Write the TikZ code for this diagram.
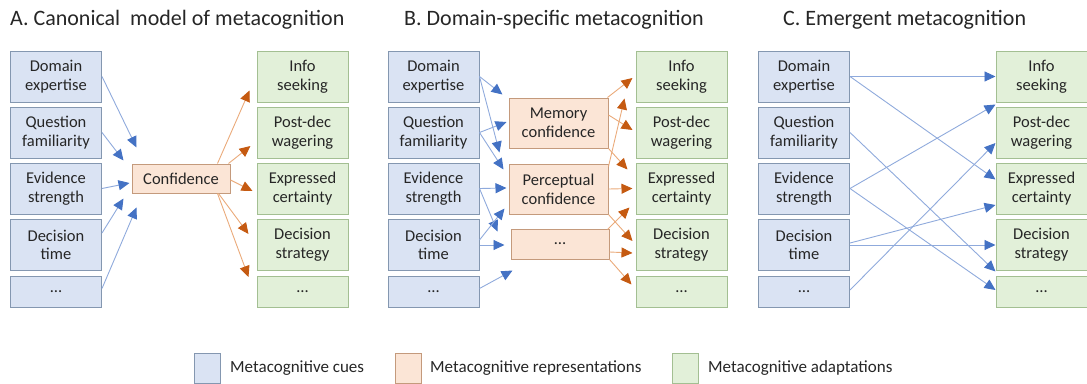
\documentclass[tikz,border=0pt]{standalone}
\usepackage{fontspec}
\setmainfont{Carlito}
\usetikzlibrary{arrows.meta}

\definecolor{cuefill}{HTML}{DAE3F3}
\definecolor{cueedge}{HTML}{8497B0}
\definecolor{repfill}{HTML}{FBE5D6}
\definecolor{repedge}{HTML}{C49A7C}
\definecolor{adfill}{HTML}{E2F0D9}
\definecolor{adedge}{HTML}{A3BF92}
\definecolor{cueline}{HTML}{8FAADC}
\definecolor{cuetip}{HTML}{4472C4}
\definecolor{repline}{HTML}{EAAA7A}
\definecolor{reptip}{HTML}{C55A11}
\definecolor{ink}{HTML}{262626}

% column of five cue boxes: #1 = name prefix, #2 = centre x
\newcommand\cuecolumn[2]{%
  \node[cue] (#11) at (#2,76.5)  {Domain\\expertise};
  \node[cue] (#12) at (#2,132.5) {Question\\familiarity};
  \node[cue] (#13) at (#2,188.5) {Evidence\\strength};
  \node[cue] (#14) at (#2,245)   {Decision\\time};
  \node[cue, minimum height=31] (#15) at (#2,291.5) {…};
}
% column of five adaptation boxes
\newcommand\adaptcolumn[2]{%
  \node[adapt] (#11) at (#2,76.5)  {Info\\seeking};
  \node[adapt] (#12) at (#2,132.5) {Post-dec\\wagering};
  \node[adapt] (#13) at (#2,188.5) {Expressed\\certainty};
  \node[adapt] (#14) at (#2,245)   {Decision\\strategy};
  \node[adapt, minimum height=31] (#15) at (#2,291.5) {…};
}

\begin{document}
\begin{tikzpicture}[x=1pt, y=-1pt,
  box/.style={line width=1pt, inner sep=0pt, align=center, text=ink,
    font=\fontsize{16.5}{18.7}\selectfont, minimum width=91, minimum height=51},
  cue/.style={box, draw=cueedge, fill=cuefill},
  adapt/.style={box, draw=adedge, fill=adfill},
  rep/.style={box, draw=repedge, fill=repfill, minimum width=99},
  cuearr/.style={draw=cueline, line width=0.9pt,
    -{Triangle[length=11pt, width=10pt, color=cuetip]}},
  reparr/.style={draw=repline, line width=0.9pt,
    -{Triangle[length=11pt, width=10pt, color=reptip]}},
  title/.style={anchor=base west, inner sep=0pt, text=ink,
    font=\fontsize{22}{26}\selectfont},
  legsq/.style={line width=1pt, minimum width=26, minimum height=30, inner sep=0pt},
  legtxt/.style={anchor=west, inner sep=0pt, text=ink,
    font=\fontsize{17}{20}\selectfont}
]
\useasboundingbox (0,0) rectangle (1087,383);

% titles
\node[title] (tA) at (10,25)  {A. Canonical\ \ model of metacognition};
\node[title] (tB) at (404,25) {B. Domain-specific metacognition};
\node[title] (tC) at (783,25) {C. Emergent metacognition};

% ---------- A: canonical model ----------
\cuecolumn{a}{56}
\adaptcolumn{ga}{302.5}
\node[rep, minimum width=98, minimum height=29] (conf) at (181,178.5) {Confidence};

\draw[cuearr] (a1.east) -- ([shift={(5,-16)}]conf.north west);
\draw[cuearr] (a2.east) -- ([shift={(-8,-3)}]conf.north west);
\draw[cuearr] (a3.east) -- ([shift={(-2,4.5)}]conf.west);
\draw[cuearr] ([shift={(0,-12)}]a4.east) -- ([shift={(-8,5)}]conf.south west);
\draw[cuearr] ([shift={(0,-3)}]a5.east) -- ([shift={(5,14)}]conf.south west);

\draw[reparr] ([shift={(-13,0)}]conf.north east) -- ([shift={(-7,-12)}]ga1.south west);
\draw[reparr] ([shift={(-2,0)}]conf.north east) -- ([shift={(-6,13.5)}]ga2.west);
\draw[reparr] ([shift={(0,1.5)}]conf.east) -- ([shift={(-4,2.5)}]ga3.west);
\draw[reparr] ([shift={(-12,0)}]conf.south east) -- ([shift={(-8,-11)}]ga4.west);
\draw[reparr] ([shift={(-13,0)}]conf.south east) -- ([shift={(-8,-14.5)}]ga5.west);

% ---------- B: domain-specific ----------
\cuecolumn{b}{433.5}
\adaptcolumn{gb}{681.5}
\node[rep, minimum height=50] (mem) at (558.5,123) {Memory\\confidence};
\node[rep, minimum height=50] (perc) at (558.5,189) {Perceptual\\confidence};
\node[rep, minimum width=98, minimum height=30] (oth) at (560,244) {…};

\draw[cuearr] (b1.east) -- ([shift={(-6,-3)}]mem.north west);
\draw[cuearr] (b1.east) -- ([shift={(-9,-11)}]perc.north west);
\draw[cuearr] (b2.east) -- ([shift={(-2,-1)}]mem.west);
\draw[cuearr] (b2.east) -- ([shift={(-5,6)}]perc.north west);
\draw[cuearr] (b3.east) -- ([shift={(-2,-1)}]perc.west);
\draw[cuearr] (b3.east) -- ([shift={(-13,3)}]oth.north west);
\draw[cuearr] ([shift={(0,-5)}]b4.east) -- ([shift={(-4,-6)}]perc.south west);
\draw[cuearr] (b4.east) -- ([shift={(-6,1)}]oth.west);
\draw[cuearr] ([shift={(0,-3)}]b5.east) -- ([shift={(2,11)}]oth.south west);

\draw[reparr] ([shift={(-1,0)}]mem.north east) -- ([shift={(-3,1.5)}]gb1.west);
\draw[reparr] ([shift={(0,-8)}]mem.east) -- ([shift={(-3,-2.5)}]gb2.west);
\draw[reparr] (mem.south east) -- ([shift={(-8,7)}]gb3.north west);
\draw[reparr] ([shift={(0,3)}]perc.north east) -- ([shift={(-11,-4)}]gb1.south west);
\draw[reparr] (perc.east) -- ([shift={(-3,0)}]gb3.west);
\draw[reparr] (perc.south east) -- ([shift={(-3,-4)}]gb4.west);
\draw[reparr] ([shift={(-2,1)}]oth.north east) -- ([shift={(-6,-7)}]gb3.south west);
\draw[reparr] ([shift={(0,8)}]oth.east) -- ([shift={(-3,8)}]gb4.west);
\draw[reparr] (oth.south east) -- ([shift={(-4,-7)}]gb5.west);

% ---------- C: emergent ----------
\cuecolumn{c}{804}
\adaptcolumn{gc}{1041.5}

\draw[cuearr] (c1.east) -- (gc1.west);
\draw[cuearr] (c1.east) -- ([shift={(0,-9)}]gc3.west);
\draw[cuearr] (c2.east) -- ([shift={(0,-4)}]gc5.north west);
\draw[cuearr] (c3.east) -- ([shift={(0,2)}]gc1.south west);
\draw[cuearr] (c3.east) -- ([shift={(0,-1.5)}]gc5.west);
\draw[cuearr] ([shift={(0,-2)}]c4.east) -- ([shift={(0,16.5)}]gc3.west);
\draw[cuearr] (c4.east) -- (gc4.west);
\draw[cuearr] ([shift={(0,-1.5)}]c5.east) -- ([shift={(0,10.5)}]gc2.west);

% ---------- legend ----------
\node[legsq, draw=cueedge, fill=cuefill] (k1) at (207.5,368) {};
\node[legtxt] (l1) at (230,368) {Metacognitive cues};
\node[legsq, draw=repedge, fill=repfill] (k2) at (408.5,368) {};
\node[legtxt] (l2) at (430,368) {Metacognitive representations};
\node[legsq, draw=adedge, fill=adfill] (k3) at (685,368) {};
\node[legtxt] (l3) at (708,368) {Metacognitive adaptations};
\end{tikzpicture}
\end{document}
